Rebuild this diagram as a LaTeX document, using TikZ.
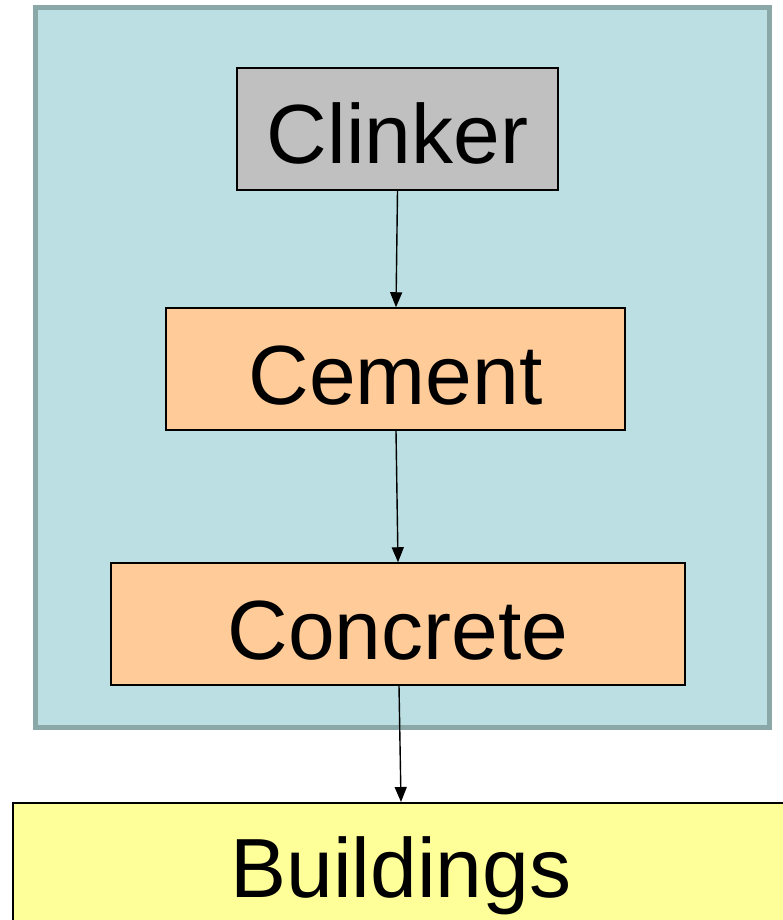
\documentclass[tikz,border=0pt]{standalone}
\usepackage{fontspec}
\setmainfont{Liberation Sans}
\usetikzlibrary{arrows.meta}
\definecolor{panelfill}{HTML}{BBDFE2}
\definecolor{panelborder}{HTML}{8AA8A8}
\definecolor{clinkerfill}{HTML}{C0C0C0}
\definecolor{orangefill}{HTML}{FFCC99}
\definecolor{yellowfill}{HTML}{FFFF99}
\tikzset{
  box/.style={draw=black, line width=1.5pt, rectangle, minimum height=122pt, inner sep=0pt,
    font=\fontsize{84}{100}\selectfont, text height=80pt, text depth=10pt},
  flow/.style={draw=black, line width=1.4pt, -{Triangle[length=15pt,width=12pt]}}
}
\begin{document}
\begin{tikzpicture}[x=1pt,y=-1pt]
\useasboundingbox (0,0) rectangle (783,920);
\clip (0,0) rectangle (783,920);
\draw[fill=panelfill, draw=panelborder, line width=5pt] (35.5,7.5) rectangle (769.5,727.5);
\node[box, fill=clinkerfill, minimum width=321pt] (clinker) at (397.5,129) {Clinker};
\node[box, fill=orangefill, minimum width=459pt] (cement) at (395.5,369) {Cement};
\node[box, fill=orangefill, minimum width=574pt] (concrete) at (398,624) {Concrete};
\node[box, fill=yellowfill, minimum width=790pt, minimum height=136pt, anchor=north west] (buildings) at (12,802) {};
\node[font=\fontsize{84}{100}\selectfont, inner sep=0pt, anchor=base] (buildingstext) at (401,897) {Buildings};
\draw[flow] (clinker.south) -- ([xshift=0.5pt]cement.north);
\draw[flow] ([xshift=0.5pt]cement.south) -- ([xshift=0pt]concrete.north);
\draw[flow] ([xshift=1pt]concrete.south) -- (401,802);
\end{tikzpicture}
\end{document}
